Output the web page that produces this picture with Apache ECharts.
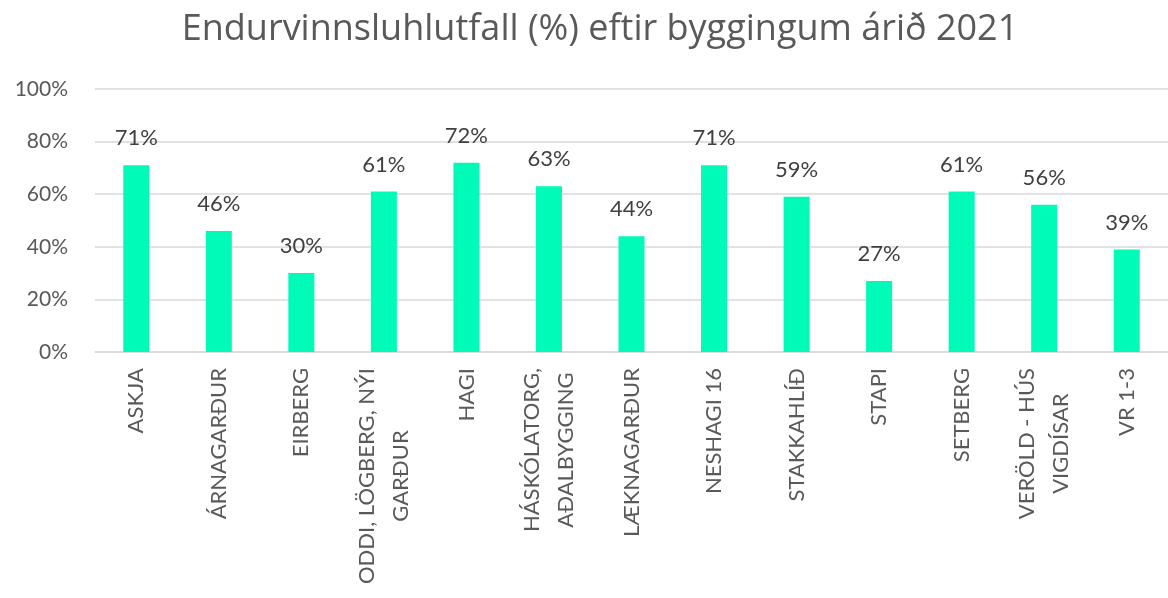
<!DOCTYPE html>
<html>
<head>
<meta charset="utf-8">
<script src="https://cdn.jsdelivr.net/npm/echarts@6/dist/echarts.min.js"></script>
<style>html,body{margin:0;padding:0;background:#fff;}#c{width:1168px;height:598px;}</style>
</head>
<body>
<div id="c"></div>
<script>
const titleText = 'Endurvinnsluhlutfall (%) eftir byggingum árið 2021';
const categories = ['ASKJA', 'ÁRNAGARÐUR', 'EIRBERG', 'ODDI, LÖGBERG, NÝI\nGARÐUR', 'HAGI', 'HÁSKÓLATORG,\nAÐALBYGGING', 'LÆKNAGARÐUR', 'NESHAGI 16', 'STAKKAHLÍÐ', 'STAPI', 'SETBERG', 'VERÖLD - HÚS\nVIGDÍSAR', 'VR 1-3'];
const values = [71, 46, 30, 61, 72, 63, 44, 71, 59, 27, 61, 56, 39];
const yTicks = [0, 20, 40, 60, 80, 100];

const FONT = 'Lato';
const chart = echarts.init(document.getElementById('c'), null, {renderer: 'canvas'});
chart.setOption({
  animation: false,
  backgroundColor: '#ffffff',
  title: {
    text: titleText,
    left: 595,
    textAlign: 'center',
    top: 7,
    textStyle: {fontFamily: 'Open Sans', fontSize: 36, fontWeight: 500, color: '#595959'}
  },
  grid: {left: 95, right: 0, top: 89, bottom: 246, containLabel: false},
  xAxis: {
    type: 'category',
    data: categories,
    axisLine: {lineStyle: {color: '#d9d9d9', width: 1.5}},
    axisTick: {show: false},
    axisLabel: {
      interval: 0,
      rotate: 90,
      margin: 16,
      fontFamily: FONT,
      fontSize: 22,
      color: '#595959',
      lineHeight: 34,
      formatter: function (v) {
        return v.split('\n').map(function (s) { return '{c|' + s + '}'; }).join('\n');
      },
      rich: {c: {align: 'center', fontFamily: FONT, fontSize: 22, color: '#595959', lineHeight: 34}}
    }
  },
  yAxis: {
    type: 'value',
    min: yTicks[0],
    max: yTicks[yTicks.length - 1],
    interval: 20,
    axisLine: {show: false},
    axisTick: {show: false},
    splitLine: {lineStyle: {color: '#d9d9d9', width: 1.5}},
    axisLabel: {
      margin: 27,
      fontFamily: FONT,
      fontSize: 21,
      color: '#595959',
      formatter: '{value}%'
    }
  },
  series: [{
    type: 'bar',
    data: values,
    barWidth: 26,
    itemStyle: {color: '#00FBB9'},
    label: {
      show: true,
      position: 'top',
      distance: 16,
      fontFamily: FONT,
      fontSize: 22,
      color: '#404040',
      formatter: '{c}%'
    }
  }]
});
</script>
</body>
</html>
